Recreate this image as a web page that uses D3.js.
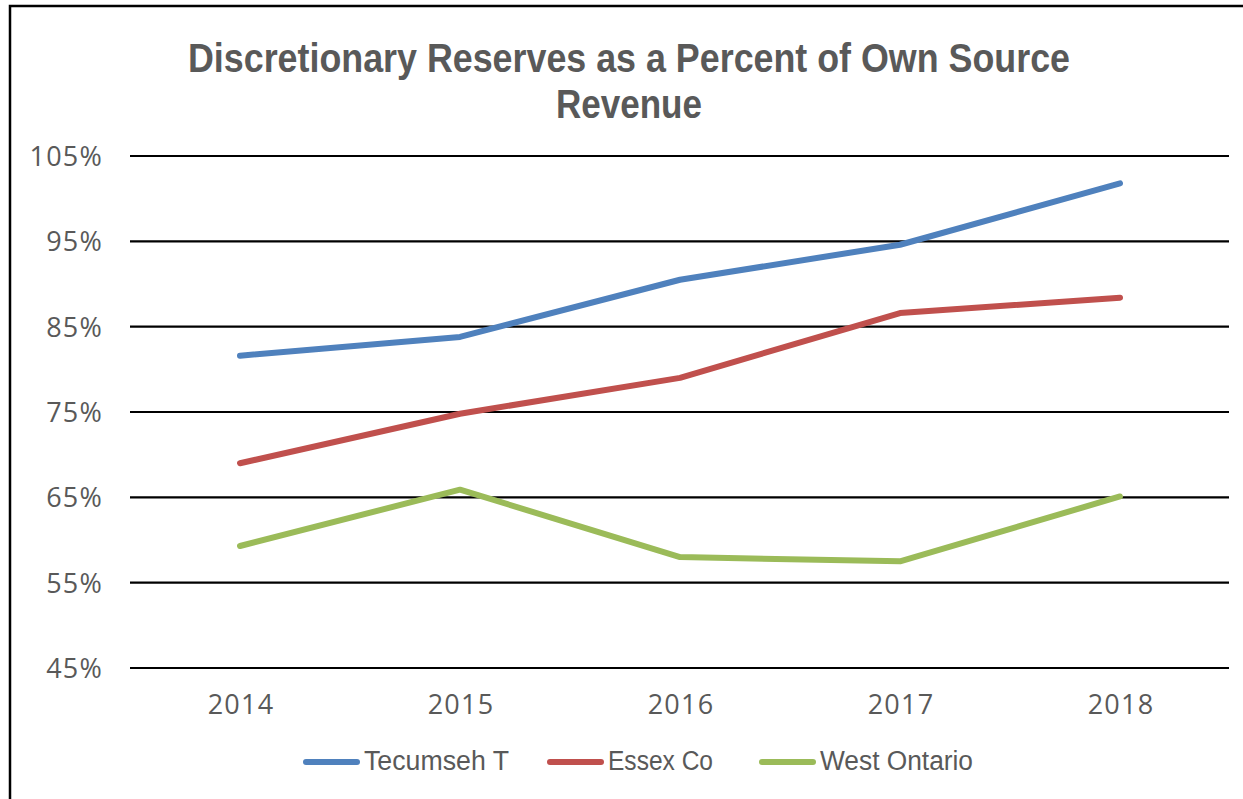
<!DOCTYPE html>
<html>
<head>
<meta charset="utf-8">
<script src="https://cdn.jsdelivr.net/npm/d3@7"></script>
<style>
  body { margin: 0; background: #fff; }
  svg { display: block; }
</style>
</head>
<body>
<div id="chart"></div>
<script>
// chart data
const years = ["2014", "2015", "2016", "2017", "2018"];
const seriesNames = ["Tecumseh T", "Essex Co", "West Ontario"];
const tecumseh = [81.6, 83.8, 90.5, 94.6, 101.8];
const essex = [69.0, 74.8, 79.0, 86.6, 88.4];
const westOntario = [59.3, 65.9, 58.0, 57.5, 65.1];
const yTicks = [45, 55, 65, 75, 85, 95, 105];

const colors = ["#4f81bd", "#c0504d", "#9bbb59"];
const textColor = "#595959";

const width = 1243, height = 799;
const svg = d3.select('#chart').append('svg')
    .attr('width', width)
    .attr('height', height);

// outer frame (runs off the right and bottom edge)
svg.append('rect')
    .attr('x', 10).attr('y', 6)
    .attr('width', 1300).attr('height', 900)
    .attr('fill', 'none')
    .attr('stroke', '#000')
    .attr('stroke-width', 2.5);

// title
const titleFont = '"Liberation Sans Narrow", "Liberation Sans", Arial, sans-serif';
svg.append('text')
    .attr('x', 629).attr('y', 72)
    .attr('text-anchor', 'middle')
    .attr('font-family', titleFont)
    .attr('font-weight', 'bold')
    .attr('font-size', 40)
    .attr('fill', textColor)
    .attr('textLength', 882)
    .attr('lengthAdjust', 'spacingAndGlyphs')
    .text('Discretionary Reserves as a Percent of Own Source');
svg.append('text')
    .attr('x', 629).attr('y', 118)
    .attr('text-anchor', 'middle')
    .attr('font-family', titleFont)
    .attr('font-weight', 'bold')
    .attr('font-size', 40)
    .attr('fill', textColor)
    .attr('textLength', 146)
    .attr('lengthAdjust', 'spacingAndGlyphs')
    .text('Revenue');

// scales
const x = d3.scalePoint().domain(years).range([130, 1230]).padding(0.5);
const y = d3.scaleLinear().domain([45, 105]).range([668, 156]);

// gridlines
svg.append('g')
    .selectAll('line')
    .data(yTicks)
    .join('line')
    .attr('x1', 130).attr('x2', 1229)
    .attr('y1', d => y(d)).attr('y2', d => y(d))
    .attr('stroke', '#000')
    .attr('stroke-width', 2.2);

// y labels
const axisFont = '"Open Sans", "DejaVu Sans", sans-serif';
svg.append('g')
    .selectAll('text')
    .data(yTicks)
    .join('text')
    .attr('x', 103)
    .attr('y', d => y(d) + 10)
    .attr('text-anchor', 'end')
    .attr('font-family', axisFont)
    .attr('font-size', 27)
    .attr('letter-spacing', 1.2)
    .attr('fill', textColor)
    .text(d => d + '%');

// x labels
svg.append('g')
    .selectAll('text')
    .data(years)
    .join('text')
    .attr('x', d => x(d) + 1)
    .attr('y', 714)
    .attr('text-anchor', 'middle')
    .attr('font-family', axisFont)
    .attr('font-size', 27)
    .attr('letter-spacing', 1.2)
    .attr('fill', textColor)
    .text(d => d);

// lines
const seriesValues = [tecumseh, essex, westOntario];
const line = d3.line()
    .x((d, i) => x(years[i]))
    .y(d => y(d));

svg.append('g')
    .selectAll('path')
    .data(seriesValues)
    .join('path')
    .attr('d', d => line(d))
    .attr('fill', 'none')
    .attr('stroke', (d, i) => colors[i])
    .attr('stroke-width', 6)
    .attr('stroke-linecap', 'round')
    .attr('stroke-linejoin', 'round');

// legend
const legendItems = [
    {x: 306, w: 51, tx: 364, tl: 145},
    {x: 550, w: 51, tx: 608, tl: 105},
    {x: 762, w: 51, tx: 820, tl: 153}
];
const legend = svg.append('g');
legendItems.forEach((it, i) => {
    legend.append('line')
        .attr('x1', it.x).attr('x2', it.x + it.w)
        .attr('y1', 762).attr('y2', 762)
        .attr('stroke', colors[i])
        .attr('stroke-width', 6)
        .attr('stroke-linecap', 'round');
    legend.append('text')
        .attr('x', it.tx).attr('y', 770)
        .attr('font-family', titleFont)
        .attr('font-size', 27)
        .attr('fill', textColor)
        .attr('textLength', it.tl)
        .attr('lengthAdjust', 'spacingAndGlyphs')
        .text(seriesNames[i]);
});
</script>
</body>
</html>
